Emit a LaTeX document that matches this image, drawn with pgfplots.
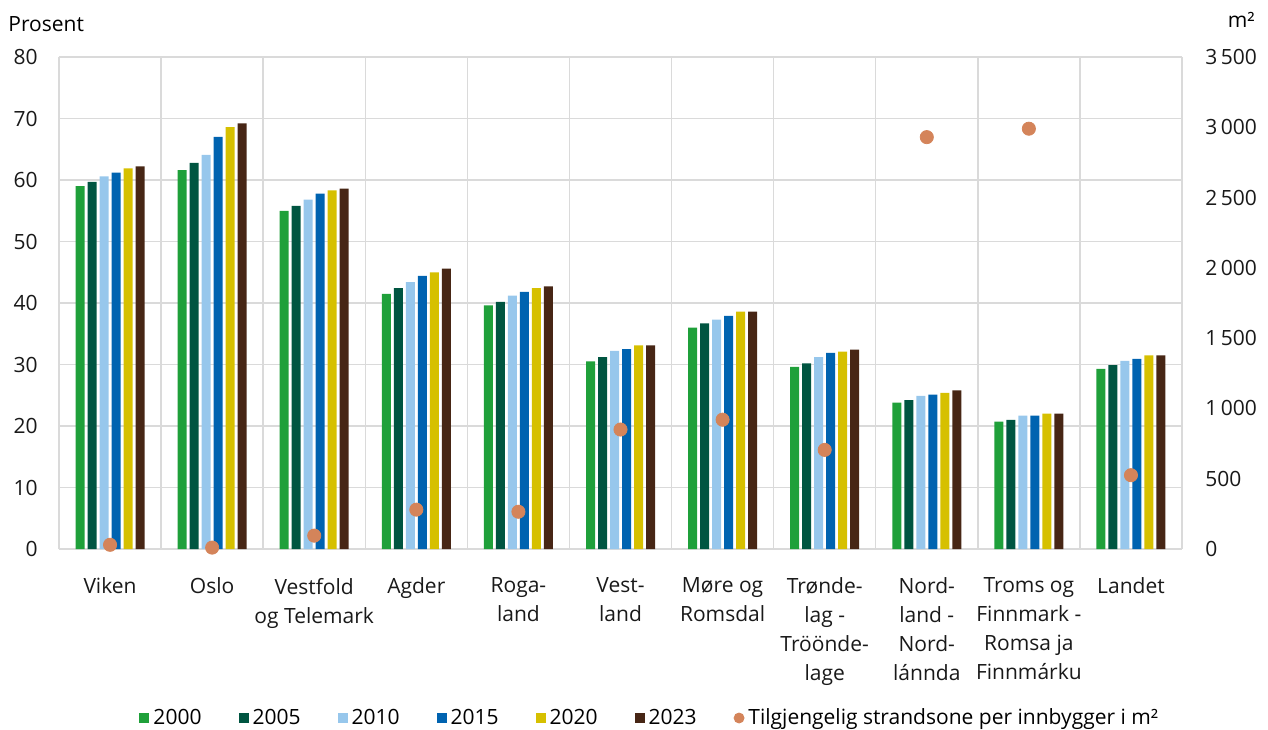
\documentclass[border=0pt]{standalone}
\usepackage{fontspec}
\setmainfont{Open Sans}
\usepackage{pgfplots}
\usepackage{pgfplotstable}
\pgfplotsset{compat=1.18}

\definecolor{c00}{HTML}{1FA03A}
\definecolor{c05}{HTML}{005541}
\definecolor{c10}{HTML}{97C7EC}
\definecolor{c15}{HTML}{0063B0}
\definecolor{c20}{HTML}{D6C000}
\definecolor{c23}{HTML}{472615}
\definecolor{dotc}{HTML}{D4845A}
\definecolor{gridc}{HTML}{DADADA}

% share of population living near the coast (prosent) and beach zone per inhabitant (m2)
\pgfplotstableread{
x y00  y05  y10  y15  y20  y23  m2
0 59.0 59.7 60.6 61.2 61.9 62.2 30
1 61.6 62.8 64.1 67.0 68.6 69.2 10
2 55.0 55.8 56.8 57.8 58.3 58.6 95
3 41.5 42.4 43.4 44.4 45.0 45.6 280
4 39.6 40.2 41.2 41.8 42.4 42.7 265
5 30.5 31.2 32.2 32.5 33.1 33.1 850
6 36.0 36.7 37.3 37.9 38.6 38.6 920
7 29.6 30.2 31.2 31.9 32.1 32.4 705
8 23.8 24.2 24.9 25.1 25.4 25.8 2930
9 20.7 21.0 21.7 21.7 22.0 22.0 2990
10 29.3 29.9 30.6 30.9 31.5 31.5 525
}\data

\begin{document}
\fontsize{10.5}{14.5}\selectfont
\begin{tikzpicture}
\pgfplotsset{
  base/.style={
    width=561.5pt, height=246pt, scale only axis,
    at={(0,0)}, anchor=south west,
    xmin=-0.5, xmax=10.5,
    tick style={draw=none},
    axis line style={draw=none},
    /pgf/number format/assume math mode=true,
    ticklabel style={font=\fontsize{10.5}{14.5}\selectfont, text=black!90},
  }
}
\begin{axis}[
    base,
    ybar=1.5pt, bar width=4.5pt,
    ymin=0, ymax=80, ytick distance=10,
    ymajorgrids, xminorgrids,
    minor xtick={-0.5,0.5,...,10.5},
    grid style={gridc, line width=0.75pt},
    minor grid style={gridc, line width=0.75pt},
    xtick={0,...,10},
    xticklabels={Viken, Oslo, {Vestfold\\og Telemark}, Agder, {Roga-\\land},
      {Vest-\\land}, {Møre og\\Romsdal}, {Trønde-\\lag -\\Tröönde-\\lage},
      {Nord-\\land -\\Nord-\\lánnda}, {Troms og\\Finnmark -\\Romsa ja\\Finnmárku}, Landet},
    xticklabel style={align=center, anchor=north, inner sep=0pt, yshift=-10pt},
    yticklabel style={anchor=east, inner sep=0pt, xshift=-10.5pt},
    legend columns=7,
    legend style={draw=none, at={(0.527,-0.3435)}, anchor=center,
      font=\fontsize{10.5}{14.5}\selectfont,
      /tikz/every even column/.append style={column sep=16.5pt}},
    legend image code/.code={\fill[#1] (0pt,-2.6pt) rectangle (5pt,2.6pt);},
  ]
  \addplot[fill=c00, draw=none] table[x=x, y=y00]{\data};
  \addplot[fill=c05, draw=none] table[x=x, y=y05]{\data};
  \addplot[fill=c10, draw=none] table[x=x, y=y10]{\data};
  \addplot[fill=c15, draw=none] table[x=x, y=y15]{\data};
  \addplot[fill=c20, draw=none] table[x=x, y=y20]{\data};
  \addplot[fill=c23, draw=none] table[x=x, y=y23]{\data};
  \legend{2000, 2005, 2010, 2015, 2020, 2023}
  \addlegendimage{legend image code/.code={\fill[dotc] (2.5pt,0pt) circle (2.5pt);}}
  \addlegendentry{Tilgjengelig strandsone per innbygger i m²}
\end{axis}
\begin{axis}[
    base,
    axis x line=none,
    axis y line*=right,
    ymin=0, ymax=3500, ytick distance=500,
    scaled y ticks=false,
    yticklabel style={anchor=west, inner sep=0pt, xshift=11.5pt,
      /pgf/number format/1000 sep={\,}},
  ]
  \addplot[only marks, mark=*, mark size=3.3pt, color=dotc] table[x=x, y=m2]{\data};
\end{axis}
\node[anchor=base west, inner sep=0pt] at (-25.5pt,258.5pt) {Prosent};
\node[anchor=base east, inner sep=0pt] at (598pt,260.5pt) {m²};
\pgfresetboundingbox
\useasboundingbox (-29.5pt,-90pt) rectangle (604.5pt,274.5pt);
\end{tikzpicture}
\end{document}
